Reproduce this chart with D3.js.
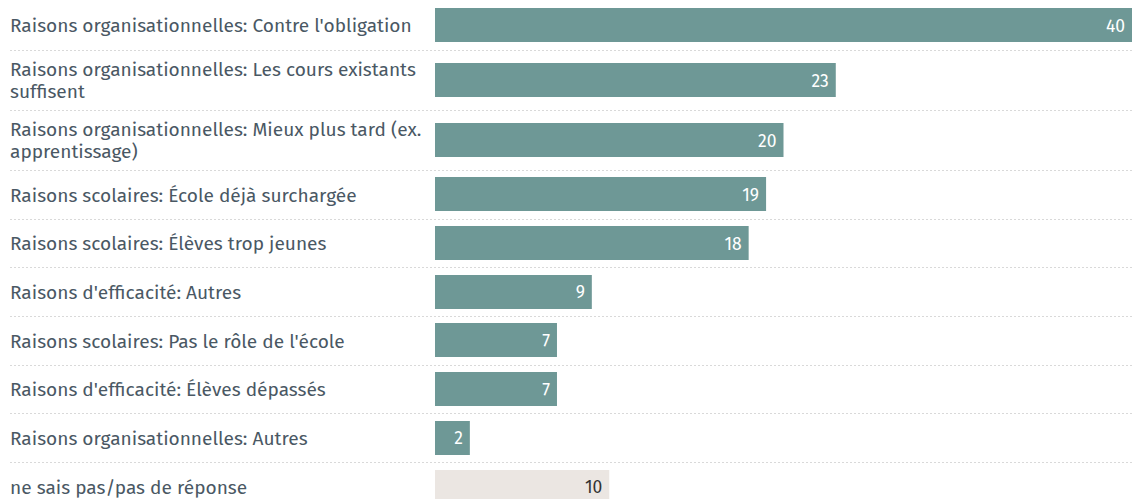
<!DOCTYPE html>
<html>
<head>
<meta charset="utf-8">
<script src="https://cdn.jsdelivr.net/npm/d3@7"></script>
<style>
  html, body { margin: 0; padding: 0; background: #fff; }
  svg { display: block; }
  text { font-family: "Fira Sans", "Open Sans", "Noto Sans", sans-serif; }
</style>
</head>
<body>
<svg id="chart" width="1132" height="499"></svg>
<script>
const categories = [
  "Raisons organisationnelles: Contre l'obligation",
  "Raisons organisationnelles: Les cours existants suffisent",
  "Raisons organisationnelles: Mieux plus tard (ex. apprentissage)",
  "Raisons scolaires: École déjà surchargée",
  "Raisons scolaires: Élèves trop jeunes",
  "Raisons d'efficacité: Autres",
  "Raisons scolaires: Pas le rôle de l'école",
  "Raisons d'efficacité: Élèves dépassés",
  "Raisons organisationnelles: Autres",
  "ne sais pas/pas de réponse"
];
const values = [40, 23, 20, 19, 18, 9, 7, 7, 2, 10];
const isNoAnswer = [false, false, false, false, false, false, false, false, false, true];

const W = 1132, H = 499;
const labelX = 10, labelMaxW = 418;
const barX0 = 435, barX1 = 1132;
const barH = 34, lineH = 22;
const labelFont = "19.1px";

const svg = d3.select("#chart");
const x = d3.scaleLinear().domain([0, 40]).range([barX0, barX1]);

// measure & wrap labels
const measurer = svg.append("text").attr("font-size", labelFont).attr("visibility", "hidden");
function wrap(str) {
  const words = str.split(" ");
  const lines = [];
  let cur = "";
  for (const w of words) {
    const t = cur ? cur + " " + w : w;
    measurer.text(t);
    if (measurer.node().getComputedTextLength() > labelMaxW && cur) {
      lines.push(cur); cur = w;
    } else cur = t;
  }
  if (cur) lines.push(cur);
  return lines;
}
const wrapped = categories.map(wrap);
measurer.remove();

// row layout
let yAcc = 0;
const rows = wrapped.map((lines, i) => {
  const h = i === 0 ? 50 : (lines.length > 1 ? 60 : 48.7);
  const r = { top: yAcc, h, lines, value: values[i], na: isNoAnswer[i] };
  yAcc += h;
  return r;
});

const g = svg.append("g");
const row = g.selectAll("g.row").data(rows).join("g").attr("class", "row");

// separators
row.filter((d, i) => i < rows.length - 1)
  .append("line")
  .attr("x1", labelX).attr("x2", W)
  .attr("y1", d => Math.round(d.top + d.h) + 0.5).attr("y2", d => Math.round(d.top + d.h) + 0.5)
  .attr("stroke", "#d9d9d9").attr("stroke-width", 1)
  .attr("stroke-dasharray", "2,2");

// labels
row.each(function(d) {
  const t = d3.select(this).append("text")
    .attr("x", labelX)
    .attr("font-size", labelFont)
    .attr("fill", "#4a5864");
  const cy = d.top + d.h / 2 + 0.5;
  const n = d.lines.length;
  d.lines.forEach((ln, k) => {
    t.append("tspan")
      .attr("x", labelX)
      .attr("y", cy + (k - (n - 1) / 2) * lineH)
      .attr("dy", "0.35em")
      .text(ln);
  });
});

// bars
row.append("rect")
  .attr("x", x(0))
  .attr("y", d => Math.round(d.top + (d.h - barH) / 2))
  .attr("width", d => x(d.value) - x(0))
  .attr("height", barH)
  .attr("fill", d => d.na ? "#ebe6e2" : "#6e9896");

// values
row.append("text")
  .attr("x", d => x(d.value) - 7)
  .attr("y", d => d.top + d.h / 2 + 0.5)
  .attr("dy", "0.35em")
  .attr("text-anchor", "end")
  .attr("font-size", "17.5px")
  .attr("fill", d => d.na ? "#333333" : "#ffffff")
  .text(d => d.value);
</script>
</body>
</html>
